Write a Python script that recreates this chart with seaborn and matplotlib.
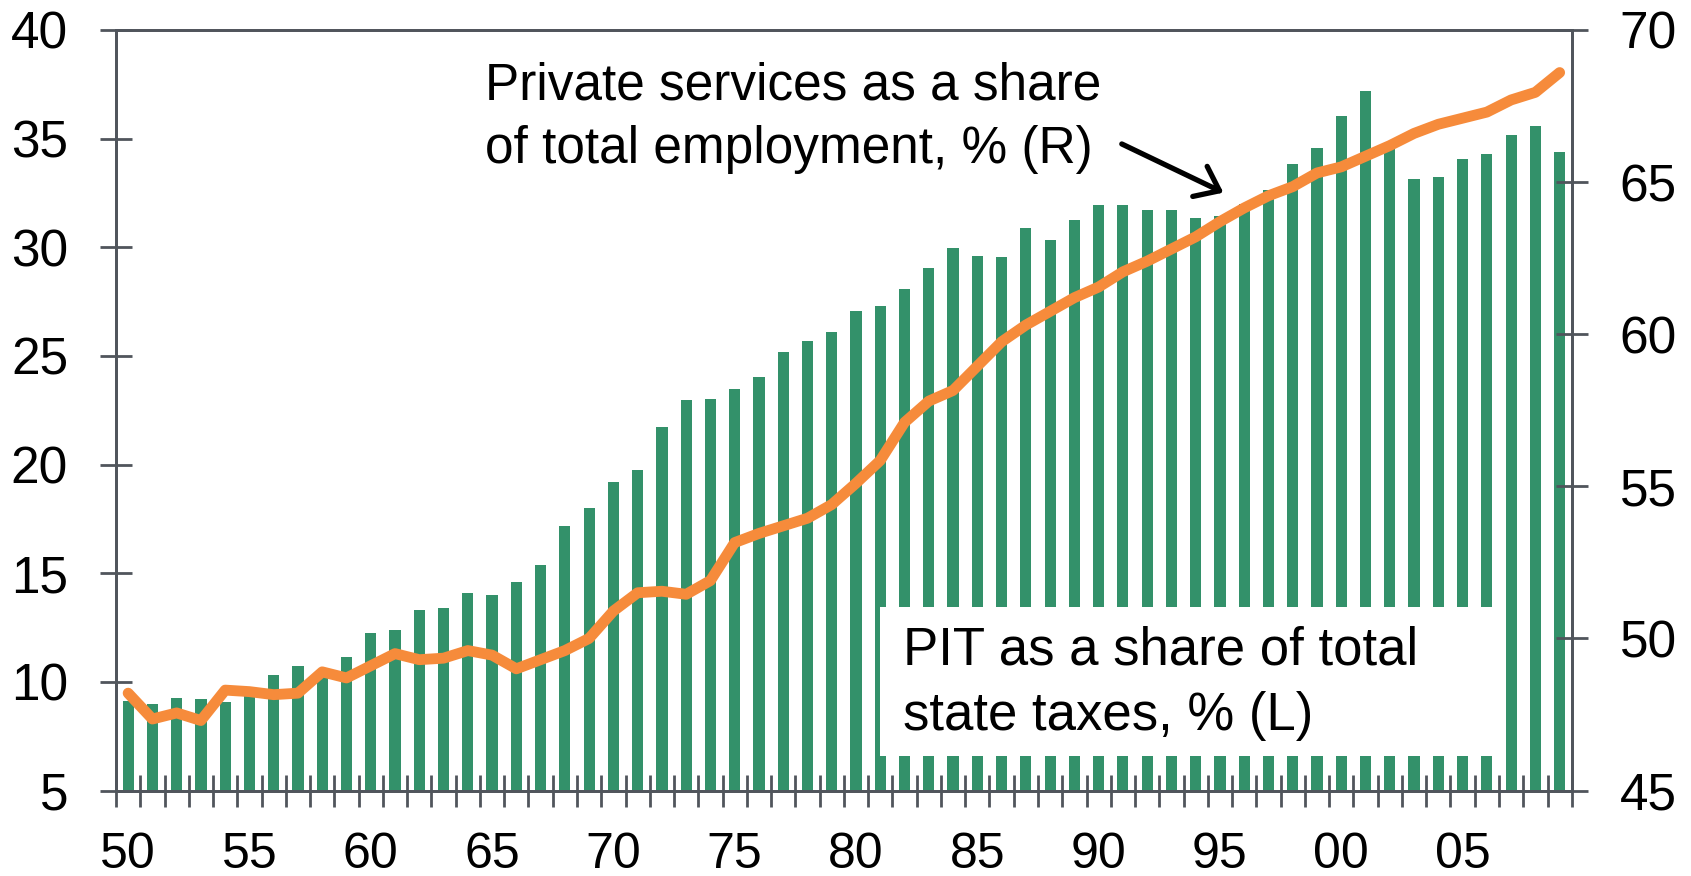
import numpy as np
import pandas as pd
import matplotlib
matplotlib.use("Agg")
import matplotlib.pyplot as plt
from matplotlib.patches import Rectangle
import seaborn as sns

# Dados (1950-2009)
anos = list(range(1950, 2010))

# PIT como % do total de impostos estaduais (eixo esquerdo)
pit_share = [9.1, 9.0, 9.25, 9.2, 9.05, 9.5, 10.3, 10.75, 10.55, 11.15,
             12.25, 12.4, 13.3, 13.4, 14.1, 14.0, 14.6, 15.4, 17.15, 18.0,
             19.2, 19.75, 21.75, 22.95, 23.0, 23.5, 24.05, 25.2, 25.7, 26.1,
             27.05, 27.3, 28.1, 29.05, 29.95, 29.6, 29.55, 30.9, 30.35, 31.25,
             31.95, 31.95, 31.7, 31.7, 31.35, 31.45, 32.0, 32.65, 33.85, 34.55,
             36.05, 37.2, 34.7, 33.15, 33.25, 34.05, 34.3, 35.15, 35.6, 34.4]

# Serviços privados como % do emprego total (eixo direito)
services_share = [48.2, 47.35, 47.55, 47.3, 48.3, 48.25, 48.15, 48.2, 48.9, 48.7,
                  49.1, 49.5, 49.3, 49.35, 49.6, 49.45, 49.0, 49.3, 49.6, 50.0,
                  50.9, 51.5, 51.55, 51.45, 51.9, 53.15, 53.45, 53.7, 53.95, 54.4,
                  55.1, 55.85, 57.1, 57.8, 58.15, 58.95, 59.75, 60.3, 60.75, 61.2,
                  61.55, 62.05, 62.4, 62.8, 63.2, 63.7, 64.15, 64.55, 64.85, 65.3,
                  65.5, 65.85, 66.2, 66.6, 66.9, 67.1, 67.3, 67.7, 67.95, 68.6]

tick_labels = ['50', '55', '60', '65', '70', '75', '80', '85', '90', '95', '00', '05']

df = pd.DataFrame({'ano': [str(a) for a in anos], 'pit': pit_share,
                   'serv': services_share, 'pos': np.arange(len(anos))})

sns.set_style("white")
plt.rcParams['font.family'] = ['Liberation Sans', 'DejaVu Sans']

verde = '#33916A'
laranja = '#F68B3B'
cinza = '#50555c'

fig = plt.figure(figsize=(16.91, 8.76), dpi=100)
ax = fig.add_axes([0.0686, 0.0976, 0.8609, 0.8682])

# barras: PIT (eixo esquerdo)
sns.barplot(data=df, x='ano', y='pit', color=verde, saturation=1, width=0.46,
            edgecolor='none', ax=ax)
ax.set_xlim(-0.5, len(anos) - 0.5)
ax.set_ylim(5, 40)
ax.set_yticks(range(5, 41, 5))
ax.set_xticks(range(0, len(anos), 5))
ax.set_xticklabels(tick_labels)
ax.set_xticks(np.arange(-0.5, len(anos), 1), minor=True)
ax.set_xlabel('')
ax.set_ylabel('')

# linha: serviços privados (eixo direito)
ax2 = ax.twinx()
sns.lineplot(data=df, x='pos', y='serv', color=laranja, linewidth=7.8,
             solid_capstyle='round', solid_joinstyle='round', ax=ax2)
ax2.set_ylim(45, 70)
ax2.set_yticks(range(45, 71, 5))
ax2.set_xlim(-0.5, len(anos) - 0.5)
ax2.set_ylabel('')

for a in (ax, ax2):
    for s in a.spines.values():
        s.set_color(cinza)
        s.set_linewidth(2)
        s.set_visible(True)

ax.tick_params(axis='y', direction='inout', length=23, width=2, color=cinza,
               pad=23, labelsize=37, labelcolor='black', left=True)
ax2.tick_params(axis='y', direction='inout', length=23, width=2, color=cinza,
                pad=23, labelsize=37, labelcolor='black', right=True)
ax.tick_params(axis='x', which='major', length=0, pad=30, labelsize=36,
               labelcolor='black')
ax.tick_params(axis='x', which='minor', direction='inout', length=23, width=2,
               color=cinza, bottom=True)

# caixa branca do rótulo PIT
ax.add_patch(Rectangle((31.0, 6.6), 25.45, 6.86, facecolor='white',
                       edgecolor='none', zorder=3))
ax.text(0.5406, 0.080, 'PIT as a share of total\nstate taxes, % (L)',
        transform=ax.transAxes, fontsize=38, va='baseline', ha='left',
        linespacing=1.4, color='black', zorder=4)

ax2.text(0.2535, 0.825, 'Private services as a share\nof total employment, % (R)',
         transform=ax2.transAxes, fontsize=37, va='baseline', ha='left',
         linespacing=1.38, color='black')
ax2.annotate('', xy=(0.7607, 0.7861), xytext=(0.6909, 0.8501),
             xycoords='axes fraction', textcoords='axes fraction',
             arrowprops=dict(arrowstyle='->,head_length=0.65,head_width=0.5',
                             mutation_scale=24, color='black', lw=3.8,
                             shrinkA=0, shrinkB=0))

fig.savefig('out.png', dpi=100)
